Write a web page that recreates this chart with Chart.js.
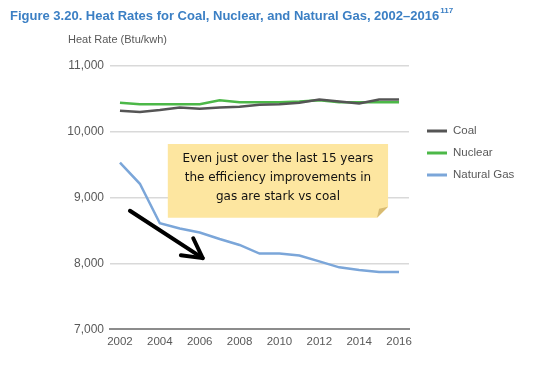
<!DOCTYPE html>
<html><head><meta charset="utf-8">
<script src="https://cdn.jsdelivr.net/npm/chart.js@4.4.1/dist/chart.umd.min.js"></script>
<style>html,body{margin:0;padding:0;background:#fff}#wrap{width:537px;height:366px;position:relative}</style>
</head><body><div id="wrap"><canvas id="c" width="537" height="366"></canvas></div>
<script>
const years = ['2002','2003','2004','2005','2006','2007','2008','2009','2010','2011','2012','2013','2014','2015','2016'];
const coal = [10320,10300,10330,10370,10350,10370,10380,10410,10420,10440,10490,10460,10430,10490,10490];
const nuclear = [10440,10420,10420,10420,10420,10480,10450,10450,10450,10460,10480,10450,10450,10450,10450];
const gas = [9530,9210,8610,8530,8470,8370,8280,8150,8150,8120,8030,7940,7900,7870,7870];
const seriesNames = ['Coal','Nuclear','Natural Gas'];
const seriesColors = ['#555555','#4cb848','#7ba6d9'];
const titleText = 'Figure 3.20. Heat Rates for Coal, Nuclear, and Natural Gas, 2002\u20132016';
const titleSup = '117';
const axisTitle = 'Heat Rate (Btu/kwh)';
const noteLines = ['Even just over the last 15 years','the efficiency improvements in','gas are stark vs coal'];
// arrow in data coordinates: [category index, value]
const arrowFrom = [0.5, 8800];
const arrowTo = [4.15, 8080];
const noteBox = {x0: 2.4, x1: 13.45, y0: 9815, y1: 8695}; // data coords

const deco = {
  id: 'deco',
  afterDraw(chart) {
    const ctx = chart.ctx, xs = chart.scales.x, ys = chart.scales.y;
    ctx.save();
    // title
    ctx.fillStyle = '#3b7fc4';
    ctx.font = 'bold 13px "Liberation Sans", Arial, sans-serif';
    ctx.textBaseline = 'alphabetic';
    ctx.textAlign = 'left';
    ctx.fillText(titleText, 10, 20);
    const w = ctx.measureText(titleText).width;
    ctx.font = 'bold 8px "Liberation Sans", Arial, sans-serif';
    ctx.fillText(titleSup, 10 + w + 1, 13);
    // axis title
    ctx.fillStyle = '#595959';
    ctx.font = '11px "Liberation Sans", Arial, sans-serif';
    ctx.textBaseline = 'middle';
    ctx.fillText(axisTitle, 68, 40);
    // legend
    const legY = [131, 153, 175];
    seriesNames.forEach((n, i) => {
      ctx.strokeStyle = seriesColors[i];
      ctx.lineWidth = 3;
      ctx.beginPath(); ctx.moveTo(427, legY[i]); ctx.lineTo(447, legY[i]); ctx.stroke();
      ctx.fillStyle = '#595959';
      ctx.font = '11.5px "Liberation Sans", Arial, sans-serif';
      ctx.fillText(n, 453, legY[i]);
    });
    // sticky note
    const bx0 = xs.getPixelForValue(noteBox.x0), bx1 = xs.getPixelForValue(noteBox.x1);
    const by0 = ys.getPixelForValue(noteBox.y0), by1 = ys.getPixelForValue(noteBox.y1);
    const f = 11;
    ctx.fillStyle = '#fde6a0';
    ctx.beginPath();
    ctx.moveTo(bx0, by0); ctx.lineTo(bx1, by0); ctx.lineTo(bx1, by1 - f); ctx.lineTo(bx1 - f, by1); ctx.lineTo(bx0, by1); ctx.closePath();
    ctx.fill();
    ctx.fillStyle = '#d8bb72';
    ctx.beginPath(); ctx.moveTo(bx1, by1 - f); ctx.lineTo(bx1 - f, by1); ctx.lineTo(bx1 - f + 2, by1 - f + 2); ctx.closePath(); ctx.fill();
    ctx.fillStyle = '#111';
    ctx.font = '12px "DejaVu Sans", sans-serif';
    ctx.textAlign = 'center';
    const cx = (bx0 + bx1) / 2;
    noteLines.forEach((t, i) => ctx.fillText(t, cx, by0 + 15 + i * 19, 206));
    // arrow
    const ax0 = xs.getPixelForValue(arrowFrom[0]), ay0 = ys.getPixelForValue(arrowFrom[1]);
    const ax1 = xs.getPixelForValue(arrowTo[0]), ay1 = ys.getPixelForValue(arrowTo[1]);
    ctx.strokeStyle = '#000'; ctx.lineWidth = 4; ctx.lineCap = 'round'; ctx.lineJoin = 'round';
    ctx.beginPath(); ctx.moveTo(ax0, ay0); ctx.lineTo(ax1, ay1); ctx.stroke();
    const ang = Math.atan2(ay1 - ay0, ax1 - ax0), L = 22;
    ctx.beginPath();
    ctx.moveTo(ax1 + L * Math.cos(ang + Math.PI - 0.45), ay1 + L * Math.sin(ang + Math.PI - 0.45));
    ctx.lineTo(ax1, ay1);
    ctx.lineTo(ax1 + L * Math.cos(ang + Math.PI + 0.55), ay1 + L * Math.sin(ang + Math.PI + 0.55));
    ctx.stroke();
    ctx.restore();
  }
};

new Chart(document.getElementById('c'), {
  type: 'line',
  data: {
    labels: years,
    datasets: [
      {label: seriesNames[0], data: coal, borderColor: seriesColors[0], borderWidth: 2.5, pointRadius: 0, tension: 0},
      {label: seriesNames[1], data: nuclear, borderColor: seriesColors[1], borderWidth: 2.5, pointRadius: 0, tension: 0},
      {label: seriesNames[2], data: gas, borderColor: seriesColors[2], borderWidth: 2.5, pointRadius: 0, tension: 0}
    ]
  },
  options: {
    responsive: false, animation: false, devicePixelRatio: 1,
    layout: {padding: {top: 66, right: 128, bottom: 11, left: 10}},
    plugins: {legend: {display: false}, title: {display: false}, tooltip: {enabled: false}},
    scales: {
      x: {
        offset: true,
        grid: {display: false, drawTicks: false},
        border: {display: true, color: '#8c8c8c', width: 2},
        ticks: {color: '#595959', font: {family: '"Liberation Sans", Arial, sans-serif', size: 11.5}, padding: 6, maxRotation: 0}
      },
      y: {
        min: 7000, max: 11000,
        afterFit(s) { s.width = 100; },
        grid: {color: '#d9d9d9', lineWidth: 1.5, drawTicks: false},
        border: {display: false},
        ticks: {stepSize: 1000, color: '#595959', padding: 6, font: {family: '"Liberation Sans", Arial, sans-serif', size: 12},
          callback: v => v.toLocaleString('en-US')}
      }
    }
  },
  plugins: [deco]
});
</script></body></html>
